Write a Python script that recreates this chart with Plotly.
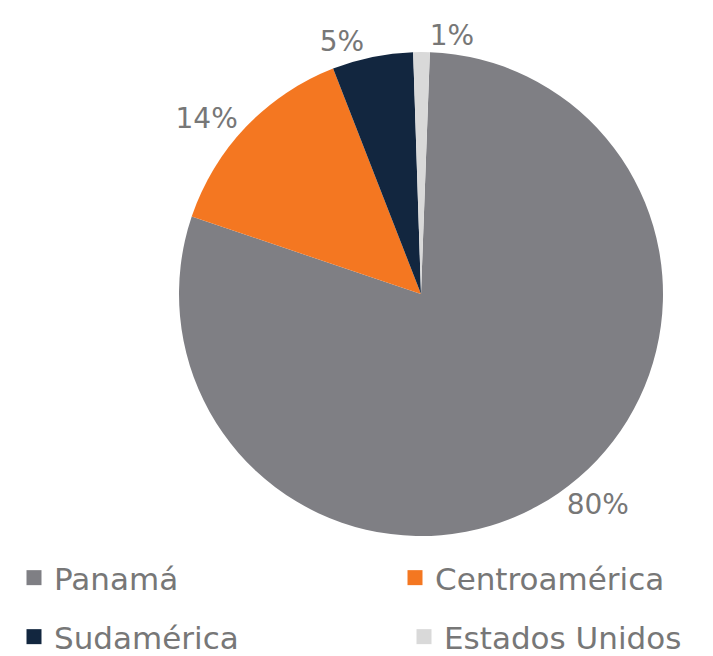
import plotly.graph_objects as go

labels = ["Panamá", "Centroamérica", "Sudamérica", "Estados Unidos"]
values = [79.6, 13.9, 5.4, 1.1]
colors = ["#7f7f84", "#f47721", "#12263f", "#d9d9d9"]

W, H = 713, 656
cx, cy, half = 421, 294, 242

fig = go.Figure()
fig.add_trace(go.Pie(
    labels=labels, values=values, sort=False, direction="clockwise", rotation=2.1,
    marker=dict(colors=colors, line=dict(width=0)),
    textposition="outside", texttemplate="%{percent:.0%}",
    textfont=dict(family="DejaVu Sans", size=28, color="#777777"),
    domain=dict(x=[(cx - half) / W, (cx + half) / W], y=[(H - cy - half) / H, (H - cy + half) / H]),
    showlegend=False, hoverinfo="skip",
))

legend_pos = [(14, 578), (395, 578), (14, 637), (404, 637)]
names = ["legend", "legend2", "legend3", "legend4"]
layout_legends = {}
for i, (lab, col) in enumerate(zip(labels, colors)):
    fig.add_trace(go.Scatter(
        x=[None], y=[None], mode="markers", name=lab,
        marker=dict(symbol="square", size=15, color=col),
        legend=names[i],
    ))
    px, py = legend_pos[i]
    layout_legends[names[i]] = dict(
        x=px / W, y=(H - py) / H, xanchor="left", yanchor="middle",
        font=dict(family="DejaVu Sans", size=31, color="#777777"),
        bgcolor="rgba(0,0,0,0)", itemclick=False,
    )

fig.update_layout(
    width=W, height=H, margin=dict(l=0, r=0, t=0, b=0, autoexpand=False),
    paper_bgcolor="white", plot_bgcolor="white",
    xaxis=dict(visible=False), yaxis=dict(visible=False),
    **layout_legends,
)
fig.write_html("out.html", config={"displayModeBar": False},
               post_script="document.body.style.margin='0';")
